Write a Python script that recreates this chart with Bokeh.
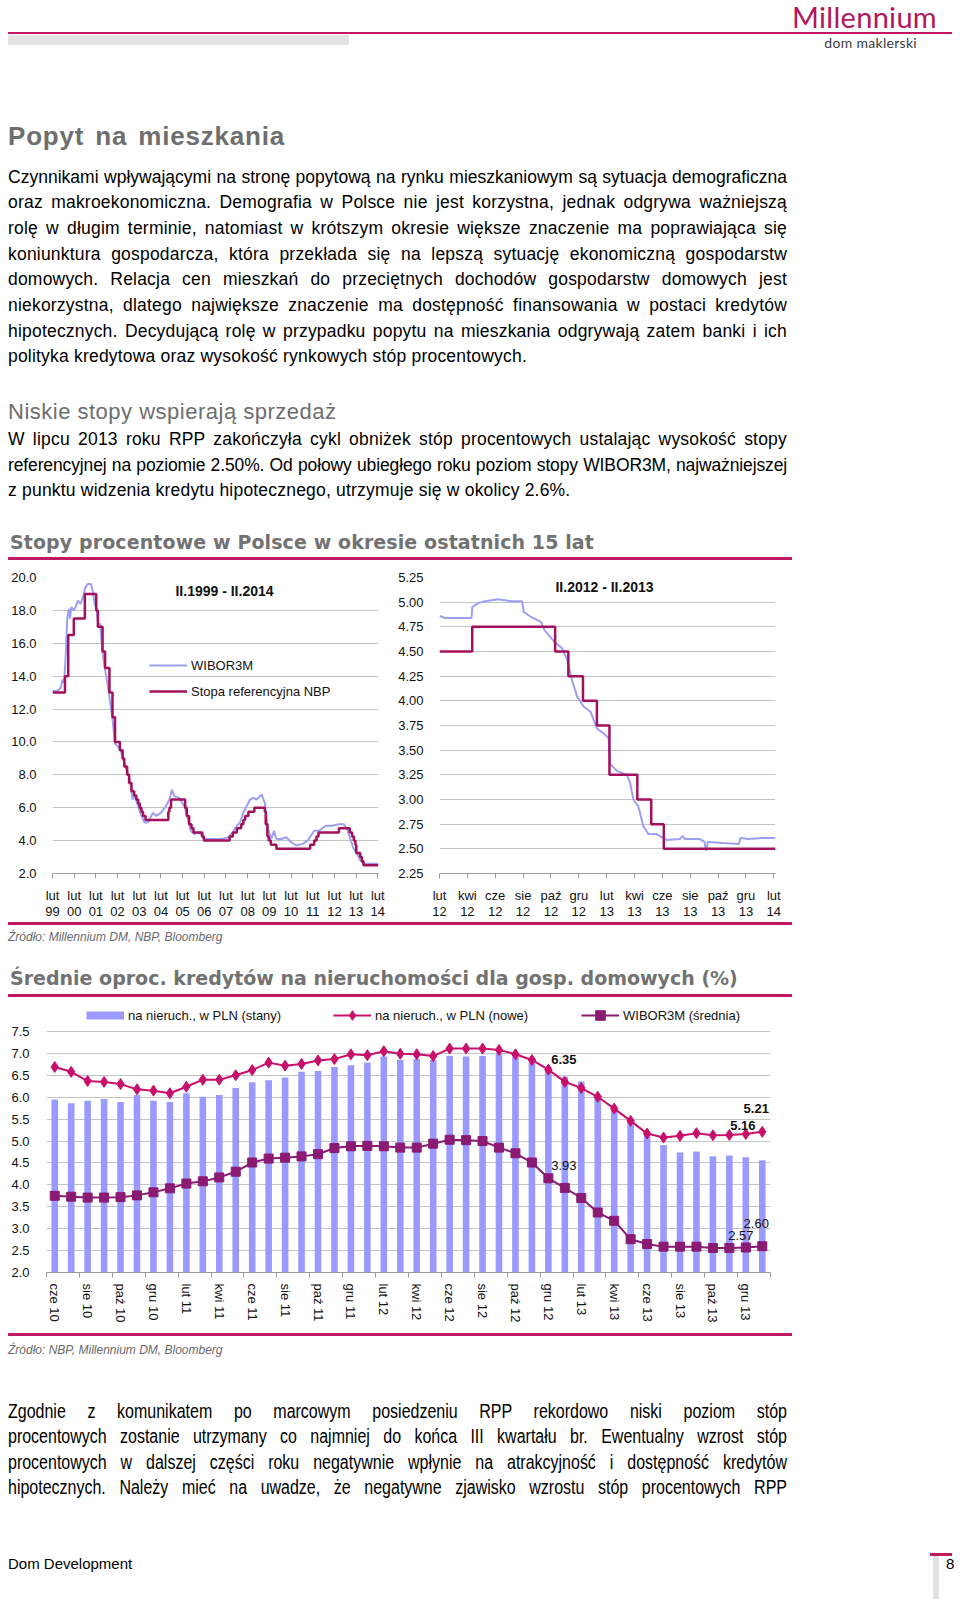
from bokeh.plotting import figure
from bokeh.models import Range1d, FixedTicker, NumeralTickFormatter, Legend, LegendItem, Label, Div
from bokeh.layouts import column, row
from bokeh.embed import file_html
from bokeh.resources import INLINE
from bokeh.core.properties import value

# ---------------- data ----------------
# Chart 1 (II.1999 - II.2014), x = months since Feb 1999
left_tick_labels = ["lut\n99", "lut\n00", "lut\n01", "lut\n02", "lut\n03", "lut\n04", "lut\n05", "lut\n06",
                    "lut\n07", "lut\n08", "lut\n09", "lut\n10", "lut\n11", "lut\n12", "lut\n13", "lut\n14"]
left_nbp_month = [0, 6.9, 8.7, 11.8, 17.9, 24.2, 25.1, 27.7, 29.1, 31.5, 33.2, 34.6, 37.3, 38.8, 39.7,
                  41.3, 42.4, 43.7, 45.2, 46.4, 47.4, 48.3, 49.2, 50.1, 51.5, 64.1, 64.7, 65.6, 73.4, 74.3,
                  75.6, 76.9, 78.0, 82.9, 83.8, 98.0, 99.8, 102.0, 104.4, 105.6, 106.6, 108.4, 111.7, 117.5,
                  118.0, 118.9, 119.7, 120.8, 123.9, 142.6, 144.8, 146.1, 147.2, 158.5, 164.5, 165.8, 166.7,
                  167.6, 168.1, 170.3, 171.2, 172.1, 180.4]
left_nbp_rate = [13.0, 14.0, 16.5, 17.5, 19.0, 18.0, 17.0, 15.5, 14.5, 13.0, 11.5, 10.0, 9.5, 9.0, 8.5,
                 8.0, 7.5, 7.0, 6.75, 6.5, 6.25, 6.0, 5.75, 5.5, 5.25, 5.75, 6.0, 6.5, 6.0, 5.5,
                 5.0, 4.75, 4.5, 4.25, 4.0, 4.25, 4.5, 4.75, 5.0, 5.25, 5.5, 5.75, 6.0, 5.75,
                 5.0, 4.25, 4.0, 3.75, 3.5, 3.75, 4.0, 4.25, 4.5, 4.75, 4.5, 4.25, 4.0,
                 3.75, 3.25, 3.0, 2.75, 2.5, 2.5]
left_wibor_month = [0, 2.7, 4.6, 5.5, 6.4, 7.3, 8.2, 9.1, 9.7, 10.4,
                    11.8, 12.8, 14.0, 15.5, 16.9, 18.2, 19.5, 21.3, 22.4, 23.3,
                    24.6, 25.5, 26.4, 27.5, 29.1, 30.9, 31.9, 33.2, 34.6, 36.4,
                    37.7, 39.2, 41.0, 42.8, 44.3, 45.5, 47.4, 49.2, 51.0, 52.8,
                    55.6, 57.4, 60.1, 62.8, 64.7, 66.1, 67.4, 70.1, 72.9, 74.7,
                    76.5, 78.3, 81.1, 83.8, 86.5, 90.2, 93.8, 97.4, 100.2, 102.0,
                    103.8, 105.6, 107.5, 109.3, 111.1, 112.9, 114.8, 115.7, 117.5, 119.3,
                    121.1, 122.6, 123.9, 126.6, 129.3, 132.1, 134.8, 138.4, 141.2, 144.8,
                    147.5, 151.2, 154.8, 158.5, 161.2, 163.0, 164.8, 166.7, 168.5, 170.3,
                    172.1, 175.7, 180.4]
left_wibor_rate = [13.1, 13.1, 13.3, 13.8, 13.6, 15.2, 17.6, 18.1, 17.5, 18.2,
                   18.0, 18.2, 18.6, 18.4, 18.8, 19.4, 19.6, 19.6, 19.1, 18.4,
                   18.0, 17.0, 17.2, 15.6, 14.4, 13.2, 12.4, 11.4, 9.9, 9.7,
                   9.5, 8.9, 8.3, 7.7, 6.5, 6.7, 6.1, 5.5, 5.1, 5.1,
                   5.7, 5.5, 5.7, 6.1, 6.5, 7.1, 6.7, 6.6, 6.1, 5.4,
                   4.6, 4.4, 4.5, 4.1, 4.1, 4.1, 4.1, 4.2, 4.6, 4.9,
                   5.1, 5.7, 6.1, 6.5, 6.6, 6.5, 6.7, 6.8, 6.3, 4.7,
                   4.1, 4.6, 4.1, 4.1, 4.2, 3.9, 3.7, 3.8, 4.0, 4.6,
                   4.6, 4.9, 4.9, 5.0, 5.0, 4.7, 4.1, 3.5, 3.2, 2.8,
                   2.6, 2.6, 2.6]

# Chart 2 (II.2012 - II.2013), x = months since Feb 2012
right_tick_labels = ["lut\n12", "kwi\n12", "cze\n12", "sie\n12", "paź\n12", "gru\n12", "lut\n13",
                     "kwi\n13", "cze\n13", "sie\n13", "paź\n13", "gru\n13", "lut\n14"]
right_nbp_month = [0, 2.35, 8.3, 9.25, 10.3, 11.3, 12.2, 14.2, 15.2, 16.1, 24.12]
right_nbp_rate = [4.5, 4.75, 4.5, 4.25, 4.0, 3.75, 3.25, 3.0, 2.75, 2.5, 2.5]
right_wibor_month = [0, 0.4, 1.35, 2.3, 2.35, 2.77, 3.25, 4.2, 5.15, 5.93,
                     6.05, 6.57, 7.28, 7.52, 8.23, 8.82, 9.18, 9.53, 9.89, 10.36,
                     10.84, 11.3, 11.78, 12.14, 12.26, 12.73, 13.45, 13.68, 13.92, 14.28,
                     14.63, 14.99, 15.58, 16.05, 16.29, 17.24, 17.48, 17.6, 18.66, 19.02,
                     19.14, 19.26, 20.32, 21.5, 21.6, 22.2, 23.17, 24.12]
right_wibor_rate = [4.86, 4.84, 4.84, 4.84, 4.95, 4.99, 5.01, 5.03, 5.01, 5.01,
                    4.90, 4.85, 4.80, 4.72, 4.60, 4.53, 4.41, 4.20, 4.04, 3.94,
                    3.89, 3.72, 3.67, 3.62, 3.36, 3.29, 3.25, 3.17, 3.00, 2.93,
                    2.73, 2.65, 2.65, 2.61, 2.59, 2.60, 2.63, 2.60, 2.60, 2.57,
                    2.48, 2.57, 2.56, 2.55, 2.61, 2.60, 2.61, 2.61]

# Chart 3 (monthly, cze 10 - sty 14)
months = ["cze 10", "lip 10", "sie 10", "wrz 10", "paź 10", "lis 10", "gru 10",
          "sty 11", "lut 11", "mar 11", "kwi 11", "maj 11", "cze 11", "lip 11", "sie 11", "wrz 11", "paź 11", "lis 11", "gru 11",
          "sty 12", "lut 12", "mar 12", "kwi 12", "maj 12", "cze 12", "lip 12", "sie 12", "wrz 12", "paź 12", "lis 12", "gru 12",
          "sty 13", "lut 13", "mar 13", "kwi 13", "maj 13", "cze 13", "lip 13", "sie 13", "wrz 13", "paź 13", "lis 13", "gru 13",
          "sty 14"]
loans_stock = [5.95, 5.86, 5.92, 5.96, 5.89, 6.05, 5.92, 5.89, 6.09, 6.01,
               6.05, 6.21, 6.34, 6.39, 6.45, 6.58, 6.60, 6.69, 6.73, 6.79,
               6.93, 6.85, 6.87, 6.85, 6.94, 6.93, 6.94, 7.00, 6.93, 6.79,
               6.60, 6.47, 6.36, 5.99, 5.71, 5.45, 5.13, 4.91, 4.74, 4.76,
               4.65, 4.67, 4.63, 4.56]
loans_new = [6.69, 6.58, 6.37, 6.35, 6.30, 6.18, 6.15, 6.09, 6.24, 6.40,
             6.40, 6.50, 6.62, 6.79, 6.72, 6.76, 6.84, 6.87, 6.98, 6.96,
             7.05, 6.99, 6.98, 6.94, 7.11, 7.11, 7.11, 7.08, 6.98, 6.85,
             6.63, 6.35, 6.21, 6.01, 5.74, 5.46, 5.17, 5.08, 5.12, 5.18,
             5.13, 5.14, 5.16, 5.21]
wibor_avg = [3.75, 3.73, 3.71, 3.71, 3.72, 3.76, 3.83, 3.92, 4.03, 4.08,
             4.17, 4.30, 4.51, 4.60, 4.62, 4.65, 4.70, 4.84, 4.88, 4.89,
             4.88, 4.85, 4.85, 4.94, 5.03, 5.02, 5.00, 4.85, 4.72, 4.51,
             4.15, 3.93, 3.70, 3.37, 3.18, 2.76, 2.65, 2.59, 2.59, 2.59,
             2.56, 2.56, 2.57, 2.60]

# ---------------- styles ----------------
MAG = "#c2185f"
GRAYH = "#6e6e6e"
GRID = "#c4c4c4"
AXC = "#9a9a9a"
WIB_C = "#9e9ef2"
NBP_C = "#a3105c"
BAR_C = "#9999ff"
NEW_C = "#c8106b"
WAVG_C = "#8a1a72"
FONT = "'Liberation Sans', Arial, sans-serif"


def style_fig(p, yticks, yfmt):
    p.outline_line_color = None
    p.xgrid.visible = False
    p.ygrid.ticker = FixedTicker(ticks=yticks)
    p.ygrid.grid_line_color = GRID
    p.ygrid.grid_line_width = 1
    p.yaxis.ticker = FixedTicker(ticks=yticks)
    p.yaxis.formatter = NumeralTickFormatter(format=yfmt)
    p.yaxis.axis_line_color = None
    p.yaxis.major_tick_line_color = None
    p.yaxis.minor_tick_line_color = None
    p.yaxis.major_label_standoff = 10
    for ax in (p.xaxis[0], p.yaxis[0]):
        ax.major_label_text_font = "Liberation Sans"
        ax.major_label_text_font_size = "13px"
        ax.major_label_text_color = "#111111"
    p.xaxis.axis_line_color = AXC
    p.xaxis.major_tick_line_color = AXC
    p.xaxis.minor_tick_line_color = None
    p.xaxis.major_tick_in = 0
    p.xaxis.major_tick_out = 5


def add_ticks(p, ticks, labels):
    p.xaxis.ticker = FixedTicker(ticks=ticks)
    p.xaxis.major_label_overrides = {t: l for t, l in zip(ticks, labels)}
    p.xaxis.major_label_text_line_height = 1.1
    p.xaxis.major_label_standoff = 9


def single_legend(p, label, renderers, x, y):
    p.add_layout(Legend(items=[LegendItem(label=label, renderers=renderers)], location=(x, y),
                        glyph_width=38, glyph_height=24, label_standoff=4, padding=0, margin=0,
                        border_line_color=None, background_fill_alpha=0, label_text_font="Liberation Sans",
                        label_text_font_size="13px", label_text_color="#111111"))


# ---------- chart 1 ----------
pl = figure(width=387, height=362, x_range=Range1d(0, 180.4), y_range=Range1d(2, 20),
            output_backend="svg", toolbar_location=None,
            min_border_left=40, min_border_right=17, min_border_top=17, min_border_bottom=48)
style_fig(pl, [2 + 2 * i for i in range(10)], "0.0")
add_ticks(pl, [12 * i for i in range(len(left_tick_labels))], left_tick_labels)
r_wl = pl.line(left_wibor_month, left_wibor_rate, line_color=WIB_C, line_width=2)
r_nl = pl.step(left_nbp_month, left_nbp_rate, mode="after", line_color=NBP_C, line_width=2.5)
pl.add_layout(Label(x=172, y=283, x_units="screen", y_units="screen", text="II.1999 - II.2014",
                    text_align="center", text_baseline="middle", text_font="Liberation Sans",
                    text_font_style="bold", text_font_size="14px", text_color="#111111"))
leg1 = Legend(items=[LegendItem(label="WIBOR3M", renderers=[r_wl]),
                     LegendItem(label="Stopa referencyjna NBP", renderers=[r_nl])],
              location=(97, 172), glyph_width=38, glyph_height=20, spacing=6, label_standoff=4,
              padding=0, margin=0, border_line_color=None, background_fill_alpha=0,
              label_text_font="Liberation Sans", label_text_font_size="13px", label_text_color="#111111")
pl.add_layout(leg1)

# ---------- chart 2 ----------
pr = figure(width=405, height=362, x_range=Range1d(0, 24.12), y_range=Range1d(2.25, 5.25),
            output_backend="svg", toolbar_location=None,
            min_border_left=41, min_border_right=25, min_border_top=17, min_border_bottom=48)
style_fig(pr, [2.25 + 0.25 * i for i in range(13)], "0.00")
add_ticks(pr, [2 * i for i in range(len(right_tick_labels))], right_tick_labels)
pr.line(right_wibor_month, right_wibor_rate, line_color=WIB_C, line_width=2)
pr.step(right_nbp_month, right_nbp_rate, mode="after", line_color=NBP_C, line_width=2.5)
pr.add_layout(Label(x=165, y=287, x_units="screen", y_units="screen", text="II.2012 - II.2013",
                    text_align="center", text_baseline="middle", text_font="Liberation Sans",
                    text_font_style="bold", text_font_size="14px", text_color="#111111"))

# ---------- chart 3 ----------
# The frame also holds the legend row above the 7.5 gridline (ticks stop at 7.5).
idx = list(range(len(months)))
FRAME_H = 270
pb = figure(width=792, height=333, x_range=Range1d(-0.5, len(months) - 0.5),
            y_range=Range1d(2.0, 2.0 + 5.5 * FRAME_H / 241.0),
            output_backend="svg", toolbar_location=None,
            min_border_left=30, min_border_right=30, min_border_top=333 - 61 - FRAME_H, min_border_bottom=61)
style_fig(pb, [2.0 + 0.5 * i for i in range(12)], "0.0")
pb.yaxis.major_label_standoff = 11
lab_idx = [i for i in idx if i % 2 == 0]
pb.xaxis.ticker = FixedTicker(ticks=lab_idx, minor_ticks=[i - 0.5 for i in range(0, len(months) + 1, 2)])
pb.xaxis.major_label_overrides = {i: months[i] for i in lab_idx}
pb.xaxis.major_label_orientation = "vertical"
pb.xaxis.major_tick_out = 0
pb.xaxis.major_tick_line_color = None
pb.xaxis.minor_tick_line_color = AXC
pb.xaxis.minor_tick_in = 0
pb.xaxis.minor_tick_out = 5
pb.xaxis.major_label_standoff = 6

pb.vbar(x=idx, top=loans_stock, bottom=2.0, width=0.4, fill_color=BAR_C, line_color=None)
r_new_l = pb.line(idx, loans_new, line_color=NEW_C, line_width=2)
r_new_m = pb.scatter(idx, loans_new, marker="diamond", size=11, fill_color=NEW_C, line_color=NEW_C)
r_w_l = pb.line(idx, wibor_avg, line_color=WAVG_C, line_width=2)
r_w_m = pb.scatter(idx, wibor_avg, marker="square", size=9, fill_color=WAVG_C, line_color=WAVG_C)
# legend swatch for the bars (a thick key line that draws nothing in the plot area)
r_bar_key = pb.line(x=[float("nan")], y=[float("nan")], line_color=BAR_C, line_width=8)

single_legend(pb, "na nieruch., w PLN (stany)", [r_bar_key], 40, 245)
single_legend(pb, "na nieruch., w PLN (nowe)", [r_new_l, r_new_m], 287, 245)
single_legend(pb, "WIBOR3M (średnia)", [r_w_l, r_w_m], 535, 245)


def annotate(series, month, bold, dx, dy):
    i = months.index(month)
    pb.text(x=[i], y=[series[i]], text=[f"{series[i]:.2f}"], x_offset=dx, y_offset=dy,
            text_align="center", text_baseline="middle", text_font=value("Liberation Sans"),
            text_font_size="13px", text_font_style="bold" if bold else "normal", text_color="#111111")


annotate(loans_new, "sty 13", True, -1, -22)
annotate(loans_new, "gru 13", True, -3, -9)
annotate(loans_new, "sty 14", True, -6, -23)
annotate(wibor_avg, "sty 13", False, -1, -22)
annotate(wibor_avg, "gru 13", False, -5, -12)
annotate(wibor_avg, "sty 14", False, -6, -23)

# ---------------- page text (HTML) ----------------
# Arial / Liberation Sans advance widths (1/1000 em) used to fit justified lines
_AW = {" ": 278, "!": 278, "%": 889, "(": 333, ")": 333, ",": 278, "-": 333, ".": 278, ":": 278}
_AW.update({d: 556 for d in "0123456789"})
_AW.update(dict(zip("ABCDEFGHIJKLMNOPQRSTUVWXYZ",
                    [667, 667, 722, 722, 667, 611, 778, 722, 278, 500, 667, 556, 833, 722, 778, 667, 778, 722,
                     667, 611, 722, 667, 944, 667, 667, 611])))
_AW.update(dict(zip("abcdefghijklmnopqrstuvwxyz",
                    [556, 556, 500, 556, 556, 278, 556, 556, 222, 222, 500, 222, 833, 556, 556, 556, 556, 333,
                     500, 278, 556, 500, 722, 500, 500, 500])))
_AW.update({"ą": 556, "ć": 500, "ę": 556, "ł": 222, "ń": 556, "ó": 556, "ś": 500, "ź": 500, "ż": 500,
            "Ś": 667, "Ź": 611, "Ż": 611, "Ł": 556})


def fit_ls(s, fs, width, ls):
    nat = sum(_AW.get(ch, 556) for ch in s) * fs / 1000.0 + ls * len(s)
    if nat > width - 4:
        return round(ls - (nat - width + 6) / len(s), 2)
    return ls


def box(top, left, w, h, color):
    return (f'<div style="position:absolute;top:{top}px;left:{left}px;width:{w}px;height:{h}px;'
            f'background:{color};"></div>')


def txt(s, top, left, width, fs, lh, color="#000", weight="normal", italic=False, family=FONT,
        justify=False, align="left", ls=0.0, ws=0.0, sx=None):
    st = ["position:absolute", f"top:{top}px", f"left:{left}px", f"width:{width}px", f"height:{lh}px",
          f"font-family:{family}", f"font-size:{fs}px", f"line-height:{lh}px", f"color:{color}",
          f"font-weight:{weight}", "white-space:nowrap", "margin:0", "padding:0"]
    if italic:
        st.append("font-style:italic")
    if justify:
        st += ["text-align:justify", "text-align-last:justify"]
    else:
        st.append(f"text-align:{align}")
    if ls:
        st.append(f"letter-spacing:{ls}px")
    if ws:
        st.append(f"word-spacing:{ws}px")
    if sx:
        st += [f"transform:scaleX({sx})", "transform-origin:0 0"]
    return f'<div style="{";".join(st)}">{s}</div>'


def page(parts, w, h):
    return f'<div style="position:relative;width:{w}px;height:{h}px;">' + "".join(parts) + "</div>"


para1 = [
    "Czynnikami wpływającymi na stronę popytową na rynku mieszkaniowym są sytuacja demograficzna",
    "oraz makroekonomiczna. Demografia w Polsce nie jest korzystna, jednak odgrywa ważniejszą",
    "rolę w długim terminie, natomiast w krótszym okresie większe znaczenie ma poprawiająca się",
    "koniunktura gospodarcza, która przekłada się na lepszą sytuację ekonomiczną gospodarstw",
    "domowych. Relacja cen mieszkań do przeciętnych dochodów gospodarstw domowych jest",
    "niekorzystna, dlatego największe znaczenie ma dostępność finansowania w postaci kredytów",
    "hipotecznych. Decydującą rolę w przypadku popytu na mieszkania odgrywają zatem banki i ich",
    "polityka kredytowa oraz wysokość rynkowych stóp procentowych.",
]
para2 = [
    "W lipcu 2013 roku RPP zakończyła cykl obniżek stóp procentowych ustalając wysokość stopy",
    "referencyjnej na poziomie 2.50%. Od połowy ubiegłego roku poziom stopy WIBOR3M, najważniejszej",
    "z punktu widzenia kredytu hipotecznego, utrzymuje się w okolicy 2.6%.",
]
para3 = [
    "Zgodnie z komunikatem po marcowym posiedzeniu RPP rekordowo niski poziom stóp",
    "procentowych zostanie utrzymany co najmniej do końca III kwartału br. Ewentualny wzrost stóp",
    "procentowych w dalszej części roku negatywnie wpłynie na atrakcyjność i dostępność kredytów",
    "hipotecznych. Należy mieć na uwadze, że negatywne zjawisko wzrostu stóp procentowych RPP",
]

TW = 779
BFS = 17.5
BLS = 0.2
p1 = [box(24, 0, 944, 2, MAG), box(27, 0, 341, 10, "#e2e2e2"),
      txt("Millennium", -3, 0, 929, 29, 24, color="#b3165a", family="Lato, sans-serif", align="right",
          ls=0.3),
      txt("dom maklerski", 29, 0, 909, 14, 12, color="#3c3c3c", family="Lato, sans-serif",
          align="right", ls=0.3),
      txt("Popyt na mieszkania", 112.7, 0, 400, 26, 30, color=GRAYH, weight="bold", ls=0.8, ws=3)]
for k, s in enumerate(para1):
    c = 168.8 + 25.64 * k
    last = k == len(para1) - 1
    p1.append(txt(s, round(c - 11, 1), 0, TW, BFS, 22, justify=not last,
                  ls=(BLS if last else fit_ls(s, BFS, TW, BLS))))
p1.append(txt("Niskie stopy wspierają sprzedaż", 391.2, 0, 400, 22, 26, color=GRAYH, ls=0.5))
for k, s in enumerate(para2):
    c = 430.9 + 25.7 * k
    last = k == len(para2) - 1
    p1.append(txt(s, round(c - 11, 1), 0, TW, BFS, 22, justify=not last,
                  ls=(BLS if last else fit_ls(s, BFS, TW, BLS))))
p1.append(txt("Stopy procentowe w Polsce w okresie ostatnich 15 lat", 523.2, 2, 720, 19, 23,
              color="#727272", weight="bold", family="'DejaVu Sans', sans-serif", ls=0.1))
p1.append(box(549, 0, 784, 3, MAG))
div1 = Div(text=page(p1, 944, 552), width=944, height=552, margin=0, styles={"overflow": "visible"})

p2 = [box(0, 0, 784, 3, MAG),
      txt("Źródło: Millennium DM, NBP, Bloomberg", 8.3, 0, 400, 12, 14, color="#6a6a6a", italic=True),
      txt("Średnie oproc. kredytów na nieruchomości dla gosp. domowych (%)", 45, 2, 780, 19, 23,
          color="#727272", weight="bold", family="'DejaVu Sans', sans-serif"),
      box(72, 0, 784, 3, MAG)]
div2 = Div(text=page(p2, 944, 78), width=944, height=78, margin=0, styles={"overflow": "visible"})

p3 = [box(0, 0, 784, 3, MAG),
      txt("Źródło: NBP, Millennium DM, Bloomberg", 9.5, 0, 400, 12, 14, color="#6a6a6a", italic=True)]
for k, s in enumerate(para3):
    c = 78 + 25.4 * k
    p3.append(txt(s, round(c - 12, 1), 0, round(TW / 0.82), 19.5, 24, justify=True, sx=0.82,
                  ls=fit_ls(s, 19.5, TW / 0.82, 0.0)))
p3 += [txt("Dom Development", 222.3, 0, 300, 15, 18),
       txt("8", 222.3, 938, 10, 15, 18),
       box(220, 922, 22, 3, MAG), box(223, 925, 6, 43, "#e2e2e2")]
div3 = Div(text=page(p3, 944, 266), width=944, height=266, margin=0, styles={"overflow": "visible"})

layout = column(div1, row(pl, pr, spacing=0), div2, pb, div3, spacing=0, margin=(8, 0, 0, 8))

with open("out.html", "w", encoding="utf-8") as f:
    f.write(file_html(layout, INLINE, title="Popyt na mieszkania"))
